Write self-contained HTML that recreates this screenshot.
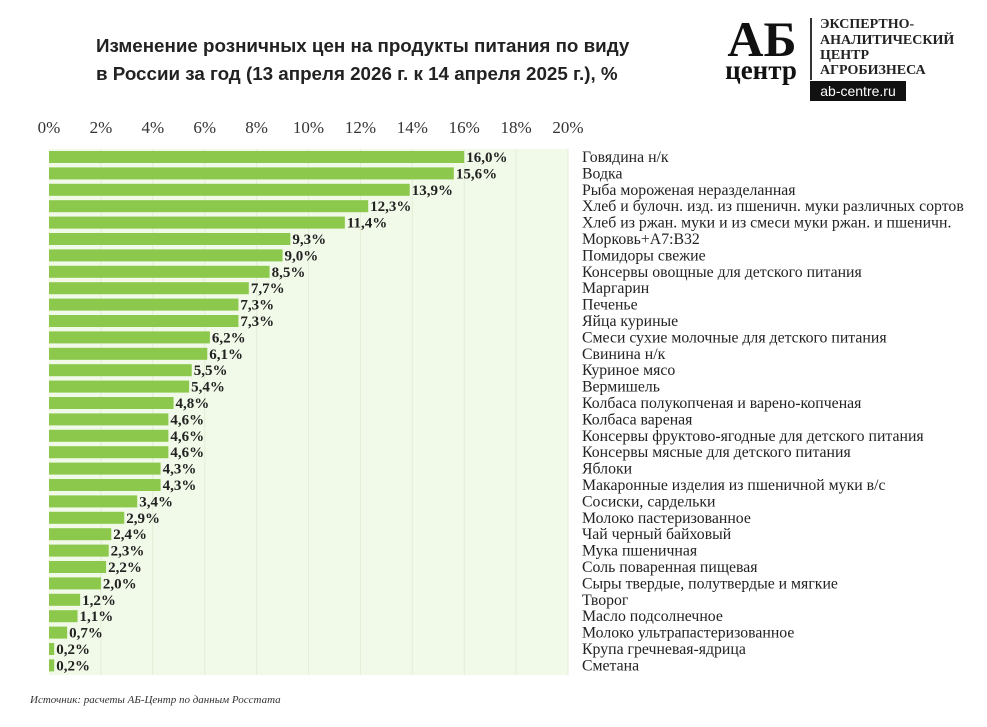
<!DOCTYPE html><html><head><meta charset="utf-8"><style>
body{margin:0;background:#fff;width:987px;height:722px;overflow:hidden;font-family:"Liberation Serif",serif}
</style></head><body>
<svg width="987" height="722" xmlns="http://www.w3.org/2000/svg">
<text x="96" y="52" font-family="Liberation Sans,sans-serif" font-weight="bold" font-size="18.8" fill="#222">Изменение розничных цен на продукты питания по виду</text>
<text x="96" y="80" font-family="Liberation Sans,sans-serif" font-weight="bold" font-size="18.8" fill="#222">в России за год (13 апреля 2026 г. к 14 апреля 2025 г.), %</text>
<g font-family="Liberation Serif,serif" font-weight="bold" fill="#111">
<text x="762" y="56" font-size="50" text-anchor="middle">АБ</text>
<text x="761" y="79" font-size="27" text-anchor="middle">центр</text>
</g>
<rect x="810" y="18" width="2" height="62" fill="#333"/>
<g font-family="Liberation Serif,serif" font-weight="bold" font-size="14" fill="#222">
<text x="820" y="28">ЭКСПЕРТНО-</text><text x="820" y="44">АНАЛИТИЧЕСКИЙ</text><text x="820" y="59">ЦЕНТР</text><text x="820" y="74">АГРОБИЗНЕСА</text>
</g>
<rect x="810" y="81" width="96" height="20" fill="#111"/>
<text x="858" y="96" font-family="Liberation Sans,sans-serif" font-size="14" fill="#fff" text-anchor="middle">ab-centre.ru</text>
<g id="ax" font-size="17" fill="#333" text-anchor="middle"></g>
<rect x="49" y="149" width="519" height="526" fill="#f1f9e8"/>
<g id="gr"></g>
<g id="g"></g>
<text x="30" y="703" font-size="11" font-style="italic" fill="#333">Источник: расчеты АБ-Центр по данным Росстата</text>
</svg>
<script>
var d=[["Говядина н/к",16.0],["Водка",15.6],["Рыба мороженая неразделанная",13.9],["Хлеб и булочн. изд. из пшеничн. муки различных сортов",12.3],["Хлеб из ржан. муки и из смеси муки ржан. и пшеничн.",11.4],["Морковь+A7:B32",9.3],["Помидоры свежие",9.0],["Консервы овощные для детского питания",8.5],["Маргарин",7.7],["Печенье",7.3],["Яйца куриные",7.3],["Смеси сухие молочные для детского питания",6.2],["Свинина н/к",6.1],["Куриное мясо",5.5],["Вермишель",5.4],["Колбаса полукопченая и варено-копченая",4.8],["Колбаса вареная",4.6],["Консервы фруктово-ягодные для детского питания",4.6],["Консервы мясные для детского питания",4.6],["Яблоки",4.3],["Макаронные изделия из пшеничной муки в/с",4.3],["Сосиски, сардельки",3.4],["Молоко пастеризованное",2.9],["Чай черный байховый",2.4],["Мука пшеничная",2.3],["Соль поваренная пищевая",2.2],["Сыры твердые, полутвердые и мягкие",2.0],["Творог",1.2],["Масло подсолнечное",1.1],["Молоко ультрапастеризованное",0.7],["Крупа гречневая-ядрица",0.2],["Сметана",0.2]];
var ns="http://www.w3.org/2000/svg",g=document.getElementById("g"),ax=document.getElementById("ax"),gr=document.getElementById("gr");
function el(t,a,p,txt){var e=document.createElementNS(ns,t);for(var k in a)e.setAttribute(k,a[k]);if(txt)e.textContent=txt;(p||g).appendChild(e);return e}
var x0=49,s=25.95;
for(var i=0;i<=10;i++){el("text",{x:x0+i*2*s,y:133},ax,(i*2)+"%");}
for(var i=1;i<=10;i++)el("line",{x1:x0+i*2*s,x2:x0+i*2*s,y1:149,y2:675,stroke:"#e2eed6","stroke-width":1},gr);
var y0=157,dy=16.4;
d.forEach(function(r,i){var y=y0+i*dy;
el("rect",{x:x0,y:y-6,width:r[1]*s,height:12,fill:"#8cc84b"});
el("text",{x:x0+r[1]*s+2,y:y+5,"font-size":15,"font-weight":"bold",fill:"#222"},g,r[1].toFixed(1).replace(".",",")+"%");
el("text",{x:582,y:y+5,"font-size":15.8,fill:"#222"},g,r[0]);});
</script>
</body></html>
